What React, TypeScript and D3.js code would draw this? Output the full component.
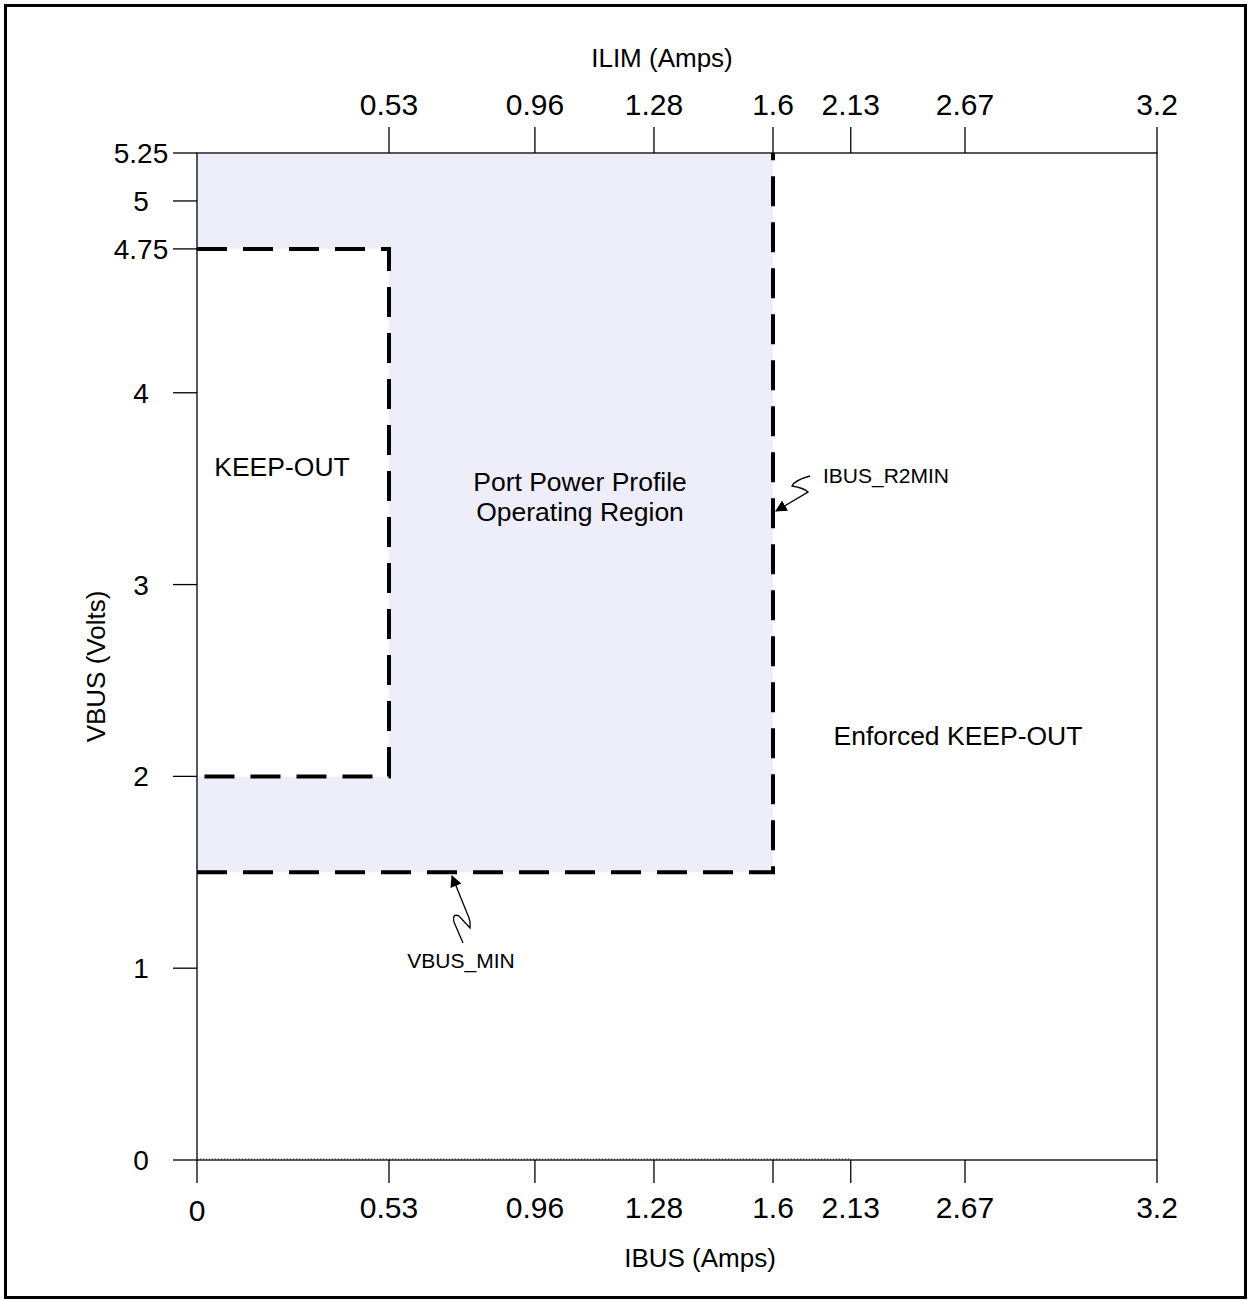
import React from "react";
import * as d3 from "d3";

// ---- data ----
const xTicks = [0, 0.53, 0.96, 1.28, 1.6, 2.13, 2.67, 3.2];
const xTickLabels = ["0", "0.53", "0.96", "1.28", "1.6", "2.13", "2.67", "3.2"];
const topTicks = [0.53, 0.96, 1.28, 1.6, 2.13, 2.67, 3.2];
const yTicks = [0, 1, 2, 3, 4, 4.75, 5, 5.25];
const yTickLabels = ["0", "1", "2", "3", "4", "4.75", "5", "5.25"];
const operatingRegion = [
  { x: 0, y: 1.5 },
  { x: 1.6, y: 1.5 },
  { x: 1.6, y: 5.25 },
  { x: 0, y: 5.25 },
];
const keepOutRegion = [
  { x: 0, y: 4.75 },
  { x: 0.53, y: 4.75 },
  { x: 0.53, y: 2 },
  { x: 0, y: 2 },
];
const vbusMinLine = [
  { x: 0, y: 1.5 },
  { x: 1.6, y: 1.5 },
  { x: 1.6, y: 5.25 },
];
const zeroDotted = [
  { x: 0, y: 0 },
  { x: 2.13, y: 0 },
];

const W = 1249;
const H = 1301;
const left = 197;
const right = 1157;
const top = 153;
const bottom = 1160;

export default function App() {
  const pw = right - left;
  // non-uniform axis spacing as drawn in the original
  const x = d3
    .scaleLinear()
    .domain(xTicks)
    .range([0, 0.2, 0.352, 0.476, 0.6, 0.681, 0.8, 1].map((f) => left + f * pw));
  const y = d3.scaleLinear().domain([0, 5.25]).range([bottom, top]);

  const line = d3
    .line<{ x: number; y: number }>()
    .x((d) => x(d.x))
    .y((d) => y(d.y));
  const poly = (pts: { x: number; y: number }[]) => line(pts) + "Z";

  const font = "Liberation Sans, Arial, Helvetica, sans-serif";
  const tickFs = 30;
  const yTickFs = 28;
  const annFs = 26.5;
  const titleFs = 26;

  return (
    <svg
      width={W}
      height={H}
      style={{ position: "absolute", left: 0, top: 0, background: "#fff" }}
      fontFamily={font}
    >
      <defs>
        <marker id="arr" viewBox="0 0 10 10" refX="9" refY="5" markerWidth="9" markerHeight="9" orient="auto">
          <path d="M0,0 L10,5 L0,10 z" fill="#000" />
        </marker>
      </defs>
      <rect x={5.5} y={5.5} width={1240} height={1292} fill="none" stroke="#000" strokeWidth={3} />

      {/* shaded regions */}
      <path d={poly(operatingRegion)} fill="#EEEEFB" />
      <path d={poly(keepOutRegion)} fill="#fff" />

      {/* frame */}
      <rect x={left} y={top} width={pw} height={bottom - top} fill="none" stroke="#000" strokeWidth={1.3} />

      {/* dotted zero line */}
      <path d={line(zeroDotted)!} stroke="#333" strokeWidth={1} strokeDasharray="1,2" fill="none" transform="translate(0,-1)" />

      {/* left ticks */}
      {yTicks.map((t, i) => (
        <g key={"y" + i}>
          <line x1={left - 24} x2={left} y1={y(t)} y2={y(t)} stroke="#000" strokeWidth={1.3} />
          <text x={141} y={y(t)} dy="0.36em" textAnchor="middle" fontSize={yTickFs}>
            {yTickLabels[i]}
          </text>
        </g>
      ))}
      {/* bottom ticks */}
      {xTicks.map((t, i) => (
        <g key={"x" + i}>
          <line x1={x(t)} x2={x(t)} y1={bottom} y2={bottom + 23} stroke="#000" strokeWidth={1.3} />
          <text x={x(t)} y={bottom + 58 + (i === 0 ? 3 : 0)} textAnchor="middle" fontSize={tickFs}>
            {xTickLabels[i]}
          </text>
        </g>
      ))}
      {/* top ticks */}
      {topTicks.map((t, i) => (
        <g key={"t" + i}>
          <line x1={x(t)} x2={x(t)} y1={top - 26} y2={top} stroke="#000" strokeWidth={1.3} />
          <text x={x(t)} y={top - 38} textAnchor="middle" fontSize={tickFs}>
            {xTickLabels[i + 1]}
          </text>
        </g>
      ))}

      {/* dashed boundaries */}
      <path d={line(keepOutRegion)!} fill="none" stroke="#000" strokeWidth={4} strokeDasharray="30,16" />
      <path d={line(vbusMinLine)!} fill="none" stroke="#000" strokeWidth={4} strokeDasharray="30,16" />

      {/* axis titles */}
      <text x={662} y={67} textAnchor="middle" fontSize={titleFs}>
        ILIM (Amps)
      </text>
      <text x={700} y={1267} textAnchor="middle" fontSize={titleFs}>
        IBUS (Amps)
      </text>
      <text transform={`translate(105,${(top + bottom) / 2 + 10}) rotate(-90)`} textAnchor="middle" fontSize={titleFs}>
        VBUS (Volts)
      </text>

      {/* annotations */}
      <text x={282} y={476} textAnchor="middle" fontSize={annFs}>KEEP-OUT</text>
      <text x={580} y={491} textAnchor="middle" fontSize={annFs}>Port Power Profile</text>
      <text x={580} y={521} textAnchor="middle" fontSize={annFs}>Operating Region</text>
      <text x={958} y={745} textAnchor="middle" fontSize={annFs}>Enforced KEEP-OUT</text>

      <text x={823} y={483} fontSize={21}>IBUS_R2MIN</text>
      <path
        d="M810,476 Q795,480 792,486 Q804,488 808,492 L776,511"
        fill="none"
        stroke="#000"
        strokeWidth={1.3}
        markerEnd="url(#arr)"
      />
      <text x={461} y={968} textAnchor="middle" fontSize={21}>VBUS_MIN</text>
      <path
        d="M463,943 L454,922 Q452,913 459,916 L470,928 Q471,921 467,913 L452,876"
        fill="none"
        stroke="#000"
        strokeWidth={1.3}
        markerEnd="url(#arr)"
      />
    </svg>
  );
}
